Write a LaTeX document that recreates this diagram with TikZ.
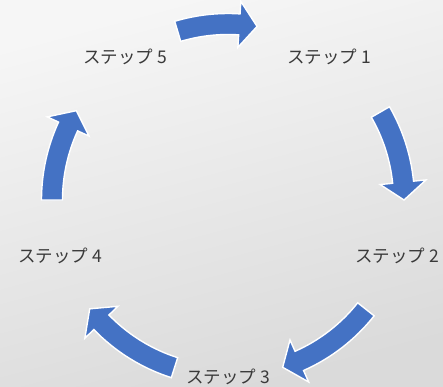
\documentclass[tikz,border=0pt]{standalone}
\usepackage{fontspec}
\newfontfamily\jpfont{Noto Sans CJK JP}
\definecolor{arrowblue}{HTML}{4472C4}
\definecolor{labelgray}{HTML}{3A3A3A}
\definecolor{bgtop}{HTML}{F6F6F6}
\definecolor{bgbottom}{HTML}{DADADA}

% curved block arrow running clockwise on the cycle circle,
% from tail angle #1 to tip angle #2
\newcommand{\cyclearrow}[2]{%
  \path[cyclearrowstyle]
    (#1:\rr+\ww) arc[start angle=#1, end angle=#2+\dd, radius=\rr+\ww]
    -- (#2+\dd:\rr+\hh) -- (#2:\rr) -- (#2+\dd:\rr-\hh)
    -- (#2+\dd:\rr-\ww) arc[start angle=#2+\dd, end angle=#1, radius=\rr-\ww]
    -- cycle;}

\begin{document}
\begin{tikzpicture}[x=1pt,y=1pt,
  lbl/.style={font=\jpfont\fontsize{17.5}{20}\selectfont, text=labelgray, inner sep=0pt},
  cyclearrowstyle/.style={fill=arrowblue, draw=white, line width=1.4pt, line join=miter}]

  % background
  \shade[top color=bgtop, bottom color=bgbottom, shading angle=15]
    (0,0) rectangle (443,386);
  \useasboundingbox (0,0) rectangle (443,386);

  % step labels
  \node[lbl] (s1) at (329,329) {ステップ 1};
  \node[lbl] (s2) at (397,130) {ステップ 2};
  \node[lbl] (s3) at (228,9)   {ステップ 3};
  \node[lbl] (s4) at (60,130)  {ステップ 4};
  \node[lbl] (s5) at (125,329) {ステップ 5};

  % arrows around the cycle
  \begin{scope}[shift={(228,186)}]
    \def\rr{176}\def\ww{10.5}\def\hh{23}\def\dd{5.8}
    \cyclearrow{106.6}{80.5}
    \cyclearrow{30}{0}
    \cyclearrow{-38.4}{-71.9}
    \cyclearrow{-107.7}{-141.8}
    \cyclearrow{180}{149.5}
  \end{scope}
\end{tikzpicture}
\end{document}
